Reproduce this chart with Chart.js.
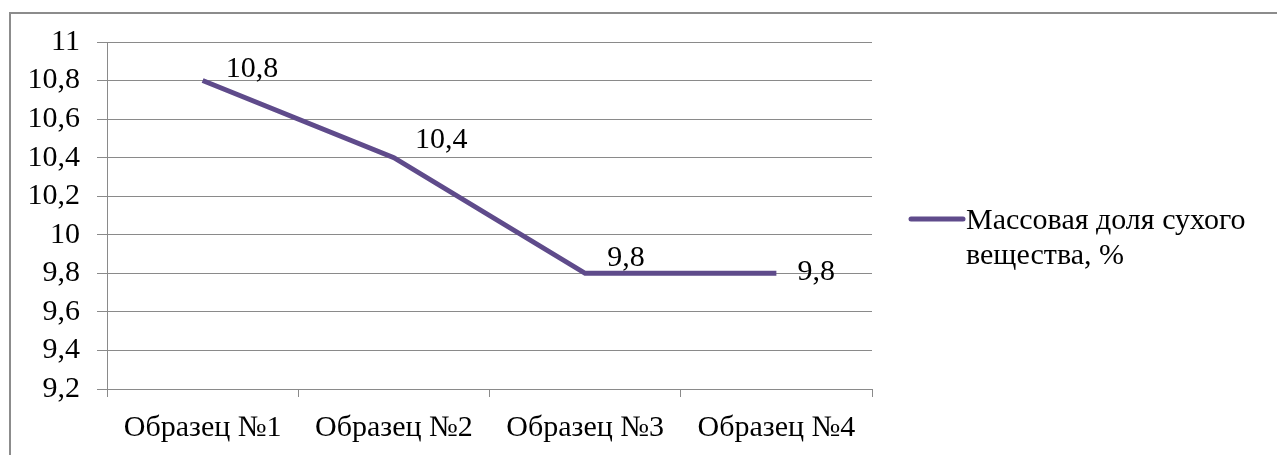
<!DOCTYPE html>
<html>
<head>
<meta charset="utf-8">
<script src="https://cdn.jsdelivr.net/npm/chart.js@4/dist/chart.umd.min.js"></script>
<style>
  html, body { margin: 0; padding: 0; background: #fff; overflow: hidden; font-family: 'Liberation Serif', serif; }
  #wrap { position: relative; width: 1277px; height: 455px; }
  #frame { position: absolute; left: 9px; top: 12px; width: 1400px; height: 600px;
           border-left: 2px solid #8c8c8c; border-top: 2px solid #8c8c8c; box-sizing: border-box; }
  canvas { position: absolute; left: 0; top: 0; }
</style>
</head>
<body>
<div id="wrap">
  <div id="frame"></div>
  <canvas id="c" width="1277" height="455"></canvas>
</div>
<script>
const categories = ["Образец №1", "Образец №2", "Образец №3", "Образец №4"];
const seriesName = ["Массовая доля сухого", "вещества, %"];
const values = [10.8, 10.4, 9.8, 9.8];
const yMin = 9.2, yMax = 11, yStep = 0.2;

const FONT = "Liberation Serif";
const FS = 30;
const LINE_COLOR = "#5f4b8b";
const GRID = "#8a8a8a";

Chart.defaults.font.family = FONT;
Chart.defaults.font.size = FS;
Chart.defaults.color = "#000";

function fmt(v) {
  const r = Math.round(v * 10) / 10;
  return Number.isInteger(r) ? String(r) : r.toFixed(1).replace('.', ',');
}

const labelPlugin = {
  id: 'pointLabels',
  afterDatasetsDraw(chart, args, opts) {
    const ctx = chart.ctx;
    const meta = chart.getDatasetMeta(0);
    ctx.save();
    ctx.font = FS + "px " + FONT;
    ctx.fillStyle = "#000";
    ctx.textAlign = "left";
    ctx.textBaseline = "middle";
    meta.data.forEach((p, i) => {
      ctx.fillText(fmt(chart.data.datasets[0].data[i]), p.x + opts.dx[i], p.y + opts.dy[i]);
    });
    ctx.restore();
  }
};

const legendPlugin = {
  id: 'sideLegend',
  afterDraw(chart, args, opts) {
    const ctx = chart.ctx;
    ctx.save();
    ctx.strokeStyle = LINE_COLOR;
    ctx.lineWidth = 5;
    ctx.lineCap = 'round';
    ctx.beginPath();
    ctx.moveTo(opts.x, opts.y);
    ctx.lineTo(opts.x + 52, opts.y);
    ctx.stroke();
    ctx.font = FS + "px " + FONT;
    ctx.fillStyle = "#000";
    ctx.textAlign = "left";
    ctx.textBaseline = "middle";
    chart.data.datasets[0].legendLines.forEach((t, i) => {
      ctx.fillText(t, opts.x + 55, opts.y + 2 + i * 35);
    });
    ctx.restore();
  }
};

new Chart(document.getElementById('c'), {
  type: 'line',
  data: {
    labels: categories,
    datasets: [{
      label: seriesName.join(' '),
      legendLines: seriesName,
      data: values,
      borderColor: LINE_COLOR,
      backgroundColor: LINE_COLOR,
      borderWidth: 5,
      pointRadius: 0,
      tension: 0,
      fill: false
    }]
  },
  options: {
    responsive: false,
    animation: false,
    devicePixelRatio: 1,
    layout: { padding: { left: 0, right: 405, top: 42, bottom: 0 } },
    plugins: {
      legend: { display: false },
      tooltip: { enabled: false },
      pointLabels: { dx: [23, 21, 22, 21], dy: [-11, -18, -15, -1] },
      sideLegend: { x: 911, y: 219 }
    },
    scales: {
      x: {
        type: 'category',
        offset: true,
        grid: { offset: true, drawOnChartArea: false, drawTicks: true, tickLength: 8, color: GRID, lineWidth: 1 },
        border: { color: GRID, width: 1 },
        ticks: { font: { family: FONT, size: FS }, color: "#000", padding: 13, maxRotation: 0, autoSkip: false },
        afterFit(scale) { scale.height = 66; }
      },
      y: {
        min: yMin, max: yMax,
        grid: { color: GRID, lineWidth: 1, tickLength: 10 },
        border: { color: GRID, width: 1 },
        ticks: {
          stepSize: yStep,
          autoSkip: false,
          font: { family: FONT, size: FS },
          color: "#000",
          padding: 17,
          callback: (v) => fmt(v)
        },
        afterFit(scale) { scale.width = 107; }
      }
    }
  },
  plugins: [labelPlugin, legendPlugin]
});
</script>
</body>
</html>
